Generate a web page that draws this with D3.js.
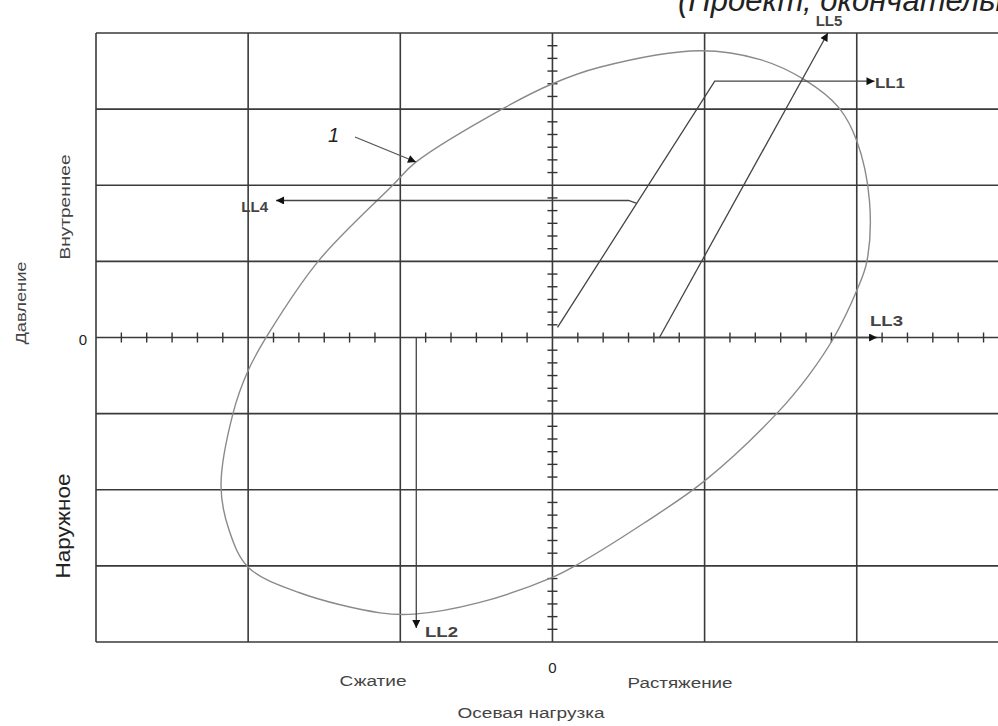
<!DOCTYPE html>
<html>
<head>
<meta charset="utf-8">
<script src="https://cdn.jsdelivr.net/npm/d3@7"></script>
<style>
  body { margin: 0; background: #fff; }
  svg { display: block; font-family: "Liberation Sans", Arial, sans-serif; }
</style>
</head>
<body>
<div id="vis"></div>
<script>
// Chart size
const width = 998;
const height = 726;

// Axis units: one small tick = 1, one grid cell = 6
const xDomain = [-18, 17.57];
const yDomain = [-24, 24];
const gridX = [-18, -12, -6, 0, 6, 12];
const gridY = [-24, -18, -12, -6, 0, 6, 12, 18, 24];
const tickX = d3.range(-17, 18);
const tickY = d3.range(-23, 24);

// Curve 1 (envelope)
const curveX = [5.8, 8.2, 9.95, 11.3, 12.0, 12.5, 12.4, 12.0, 11.1, 10.1, 8.84, 6.0, 3.63, 0.8, 0.0, -2.9, -5.45, -6.8, -10.0, -12.0, -12.75, -13.07, -12.6, -12.0, -11.2, -9.2, -6.3, -5.4, -1.9, 0.0, 1.86];
const curveY = [22.6, 21.9, 20.3, 18.1, 15.5, 10.8, 6.0, 3.7, 0.0, -3.0, -6.0, -11.3, -14.6, -18.1, -18.9, -20.9, -21.8, -21.7, -20.1, -18.1, -15.2, -11.7, -6.0, -2.6, 0.3, 6.1, 12.0, 13.8, 18.1, 20.0, 21.3];

// Load lines
const ll1X = [0.2, 6.4, 12.7];
const ll1Y = [0.8, 20.2, 20.2];
const ll2X = [-5.37, -5.37];
const ll2Y = [0, -22.9];
const ll3X = [0, 12.8];
const ll3Y = [0, 0];
const ll4X = [3.3, 3.0, -10.9];
const ll4Y = [10.6, 10.8, 10.8];
const ll5X = [4.22, 10.86];
const ll5Y = [0, 24];

const xScale = d3.scaleLinear().domain(xDomain).range([96, 998]);
const yScale = d3.scaleLinear().domain(yDomain).range([642, 33]);

const svg = d3.select('#vis')
    .append('svg')
    .attr('width', width)
    .attr('height', height);

// arrow head
svg.append('defs').append('marker')
    .attr('id', 'arrow')
    .attr('viewBox', '0 0 10 10')
    .attr('refX', 10)
    .attr('refY', 5)
    .attr('markerWidth', 13)
    .attr('markerHeight', 8)
    .attr('markerUnits', 'userSpaceOnUse')
    .attr('orient', 'auto')
    .append('path')
    .attr('d', 'M0,0L10,5L0,10Z')
    .attr('fill', '#111');

// Grid
const grid = svg.append('g').attr('stroke', '#3a3a3a').attr('stroke-width', 1.6);
grid.selectAll('.gx')
    .data(gridX)
    .join('line')
    .attr('x1', d => xScale(d)).attr('x2', d => xScale(d))
    .attr('y1', yScale(24)).attr('y2', yScale(-24));
grid.selectAll('.gy')
    .data(gridY)
    .join('line')
    .attr('class', 'gy')
    .attr('y1', d => yScale(d)).attr('y2', d => yScale(d))
    .attr('x1', xScale(-18)).attr('x2', width);

// Small ticks on the two axes
const ticks = svg.append('g').attr('stroke', '#333').attr('stroke-width', 1.4);
ticks.selectAll('.tx')
    .data(tickX.filter(d => d % 6 !== 0))
    .join('line')
    .attr('x1', d => xScale(d)).attr('x2', d => xScale(d))
    .attr('y1', yScale(0) - 5).attr('y2', yScale(0) + 5);
ticks.selectAll('.ty')
    .data(tickY.filter(d => d % 6 !== 0))
    .join('line')
    .attr('class', 'ty')
    .attr('y1', d => yScale(d)).attr('y2', d => yScale(d))
    .attr('x1', xScale(0) - 5).attr('x2', xScale(0) + 5);

// Envelope curve
const pts = curveX.map((d, i) => [d, curveY[i]]);
svg.append('path')
    .datum(pts)
    .attr('fill', 'none')
    .attr('stroke', '#8a8a8a')
    .attr('stroke-width', 1.4)
    .attr('d', d3.line().x(d => xScale(d[0])).y(d => yScale(d[1])).curve(d3.curveCatmullRomClosed));

// Load lines with arrows
const straight = d3.line().x(d => xScale(d[0])).y(d => yScale(d[1]));
const loads = [[ll1X, ll1Y], [ll2X, ll2Y], [ll3X, ll3Y], [ll4X, ll4Y], [ll5X, ll5Y]];
svg.append('g')
    .selectAll('path')
    .data(loads)
    .join('path')
    .attr('fill', 'none')
    .attr('stroke', '#444')
    .attr('stroke-width', 1.3)
    .attr('marker-end', 'url(#arrow)')
    .attr('d', d => straight(d[0].map((v, i) => [v, d[1][i]])));

// Leader for label 1
svg.append('line')
    .attr('x1', 355).attr('y1', 137)
    .attr('x2', 416).attr('y2', 162)
    .attr('stroke', '#555')
    .attr('stroke-width', 1.3)
    .attr('marker-end', 'url(#arrow)');

// Texts
function label(x, y, txt, size, opts = {}) {
    const t = svg.append('text')
        .attr('x', x).attr('y', y)
        .attr('font-size', size)
        .attr('fill', opts.fill || '#333')
        .attr('text-anchor', opts.anchor || 'start')
        .text(txt);
    if (opts.weight) t.attr('font-weight', opts.weight);
    if (opts.style) t.attr('font-style', opts.style);
    if (opts.len) t.attr('textLength', opts.len).attr('lengthAdjust', 'spacingAndGlyphs');
    if (opts.rotate) t.attr('transform', `rotate(-90,${x},${y})`);
    return t;
}

label(678, 11, '(Проект, окончательная редакция)', 31, {style: 'italic', fill: '#222'});
label(829, 26, 'LL5', 15, {anchor: 'middle', weight: 'bold', fill: '#444'});
label(875, 88, 'LL1', 15, {weight: 'bold', fill: '#444', len: 30});
label(268, 212, 'LL4', 15, {anchor: 'end', weight: 'bold', fill: '#444'});
label(870, 326, 'LL3', 15, {weight: 'bold', fill: '#444', len: 33});
label(425, 637, 'LL2', 15, {weight: 'bold', fill: '#444', len: 33});
label(328, 142, '1', 20, {style: 'italic', fill: '#222'});
label(83, 345, '0', 15, {anchor: 'middle', fill: '#222'});
label(xScale(0), 673, '0', 15, {anchor: 'middle', fill: '#222'});
label(373, 686, 'Сжатие', 14, {anchor: 'middle', fill: '#444', len: 67});
label(680, 688, 'Растяжение', 14, {anchor: 'middle', fill: '#444', len: 105});
label(531, 718, 'Осевая нагрузка', 14, {anchor: 'middle', fill: '#444', len: 147});
label(26, 303, 'Давление', 14, {anchor: 'middle', rotate: true, fill: '#444', len: 83});
label(70, 207, 'Внутреннее', 14, {anchor: 'middle', rotate: true, fill: '#444', len: 105});
label(70, 526, 'Наружное', 20, {anchor: 'middle', rotate: true, fill: '#222', len: 105});
</script>
</body>
</html>
